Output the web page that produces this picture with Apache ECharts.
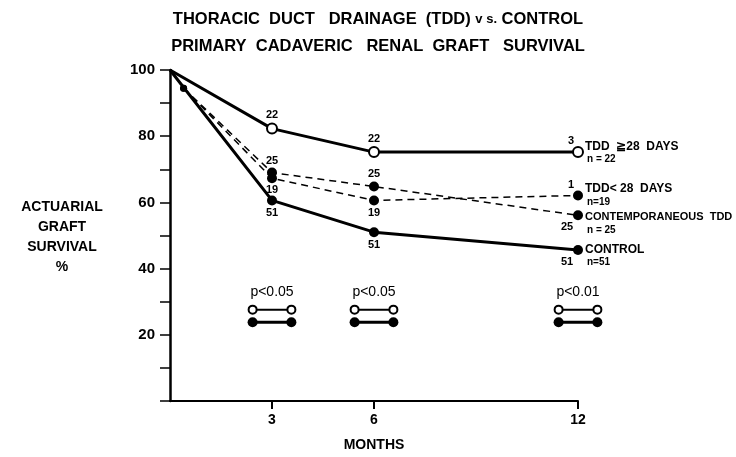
<!DOCTYPE html>
<html><head><meta charset="utf-8">
<script src="https://cdn.jsdelivr.net/npm/echarts@6/dist/echarts.min.js"></script>
<style>html,body{margin:0;padding:0;background:#fff}#c{width:736px;height:457px}</style>
</head><body><div id="c"></div>
<script>
// ---- data ----
const months = [0, 3, 6, 12];
const dashedMonths = [0.4, 3, 6, 12];
const tddLong = [100, 82.3, 75.2, 75.2];
const tddLongN = [null, 22, 22, 3];
const tddShort = [94.5, 67.3, 60.6, 62.1];
const tddShortN = [null, 19, 19, 1];
const contemp = [94.5, 69.0, 64.8, 56.1];
const contempN = [null, 25, 25, 25];
const control = [100, 60.6, 51.0, 45.6];
const controlN = [null, 51, 51, 51];
const groupNames = ['TDD  \u226728  DAYS', 'TDD< 28  DAYS', 'CONTEMPORANEOUS  TDD', 'CONTROL'];
const groupSizes = ['n = 22', 'n=19', 'n = 25', 'n=51'];
const xTickValues = [3, 6, 12];
const yLabelValues = [20, 40, 60, 80, 100];
const pLabels = ['p<0.05', 'p<0.05', 'p<0.01'];
const pMonths = [3, 6, 12];
const pOpenLevel = 27.6, pFilledLevel = 23.8, pTextLevel = 32.8, pHalfWidth = 0.57;

// ---- styling ----
const FONT = '"Liberation Sans", Arial, sans-serif';
const labelStyle = { fontFamily: FONT, fontWeight: 'bold', fontSize: 11, color: '#000' };

function countLabels(ns, cfg) {
  return ns.map((n, i) => {
    if (n === null) return null;
    const c = cfg[i];
    return { show: true, formatter: String(n), position: c.pos, distance: c.d || 2, offset: c.off || [0, 0], ...labelStyle };
  });
}

function buildSeries(name, xs, ys, ns, cfg, opts) {
  const lbls = countLabels(ns, cfg);
  const data = xs.map((x, i) => {
    const item = { value: [x, ys[i]] };
    if (lbls[i]) item.label = lbls[i];
    if (opts.firstSize !== undefined && i === 0) item.symbolSize = opts.firstSize;
    if (opts.hideFirst && i === 0) item.symbol = 'none';
    return item;
  });
  return {
    name, type: 'line', data, z: 5, clip: false,
    symbol: 'circle', symbolSize: 10,
    itemStyle: { color: opts.open ? '#fff' : '#000', borderColor: '#000', borderWidth: opts.open ? 2 : 0 },
    lineStyle: { color: '#000', width: opts.dashed ? 1.5 : 3, type: opts.dashed ? [7, 5] : 'solid' },
    endLabel: {
      show: true, distance: 7, offset: opts.endOff || [0, 0],
      formatter: () => '{a|' + opts.title + '}\n{b|' + opts.size + '}',
      rich: {
        a: { fontFamily: FONT, fontWeight: 'bold', fontSize: opts.nameSize || 11, color: '#000', lineHeight: 13 },
        b: { fontFamily: FONT, fontWeight: 'bold', fontSize: 10, color: '#000', lineHeight: 13, padding: [0, 0, 0, 2] }
      }
    }
  };
}

const series = [
  buildSeries('tddLong', months, tddLong, tddLongN,
    [null, { pos: 'top' }, { pos: 'top' }, { pos: 'top', off: [-7, 2] }],
    { open: true, title: groupNames[0], size: groupSizes[0], hideFirst: true, endOff: [0, 1], nameSize: 12 }),
  buildSeries('tddShort', dashedMonths, tddShort, tddShortN,
    [null, { pos: 'bottom', d: 1 }, { pos: 'bottom' }, { pos: 'top', off: [-7, 2] }],
    { dashed: true, title: groupNames[1], size: groupSizes[1], firstSize: 7, endOff: [0, 0], nameSize: 12 }),
  buildSeries('contemp', dashedMonths, contemp, contempN,
    [null, { pos: 'top', d: 1 }, { pos: 'top' }, { pos: 'bottom', off: [-11, -1] }],
    { dashed: true, title: groupNames[2], size: groupSizes[2], firstSize: 7, endOff: [0, 8] }),
  buildSeries('control', months, control, controlN,
    [null, { pos: 'bottom' }, { pos: 'bottom' }, { pos: 'bottom', off: [-11, -1] }],
    { title: groupNames[3], size: groupSizes[3], hideFirst: true, endOff: [0, 6], nameSize: 12 })
];

// p-value comparison markers (custom series so they can extend past the last tick)
series.push({
  type: 'custom', silent: true, clip: false, z: 4,
  data: pMonths.map((m, i) => [m, i]),
  renderItem: (params, api) => {
    const m = api.value(0);
    const i = api.value(1);
    const children = [];
    [[pOpenLevel, true], [pFilledLevel, false]].forEach(([lvl, open]) => {
      const a = api.coord([m - pHalfWidth, lvl]);
      const b = api.coord([m + pHalfWidth, lvl]);
      children.push({ type: 'line', shape: { x1: a[0], y1: a[1], x2: b[0], y2: b[1] },
        style: { stroke: '#000', lineWidth: open ? 2 : 3 } });
      [a, b].forEach(p => children.push({ type: 'circle', shape: { cx: p[0], cy: p[1], r: open ? 4 : 5 },
        style: { fill: open ? '#fff' : '#000', stroke: '#000', lineWidth: open ? 2 : 0 } }));
    });
    const t = api.coord([m, pTextLevel]);
    children.push({ type: 'text', x: t[0], y: t[1],
      style: { text: pLabels[i], align: 'center', verticalAlign: 'middle', font: '14px ' + FONT, fill: '#000' } });
    return { type: 'group', children };
  }
});

const chart = echarts.init(document.getElementById('c'), null, { renderer: 'canvas' });
chart.setOption({
  animation: false,
  backgroundColor: '#fff',
  title: {
    left: 373, top: 1, textAlign: 'center',
    text: '{t|THORACIC  DUCT   DRAINAGE  (TDD) }{s|v s.}{t| CONTROL}\n{t|PRIMARY  CADAVERIC   RENAL  GRAFT   SURVIVAL}',
    textStyle: {
      rich: {
        t: { fontFamily: FONT, fontWeight: 'bold', fontSize: 16.5, color: '#000', lineHeight: 27 },
        s: { fontFamily: FONT, fontWeight: 'bold', fontSize: 13, color: '#000', lineHeight: 27 }
      }
    }
  },
  grid: { left: 170, right: 158, top: 70, bottom: 54 },
  xAxis: {
    type: 'value', min: 0, max: 12, interval: 3,
    splitLine: { show: false },
    axisLine: { lineStyle: { color: '#000', width: 2 } },
    axisTick: { customValues: xTickValues, length: 8, lineStyle: { color: '#000', width: 2 } },
    axisLabel: { customValues: xTickValues, margin: 12, fontFamily: FONT, fontWeight: 'bold', fontSize: 14, color: '#000' },
    name: 'MONTHS', nameLocation: 'middle', nameGap: 37,
    nameTextStyle: { fontFamily: FONT, fontWeight: 'bold', fontSize: 14, color: '#000' }
  },
  yAxis: {
    type: 'value', min: 0, max: 100, interval: 10,
    splitLine: { show: false },
    axisLine: { show: true, lineStyle: { color: '#000', width: 2.5 } },
    axisTick: { length: 10, lineStyle: { color: '#000', width: 1.5 } },
    axisLabel: {
      margin: 15, fontFamily: FONT, fontWeight: 'bold', fontSize: 15, color: '#000',
      formatter: v => (yLabelValues.indexOf(v) >= 0 ? String(v) : '')
    }
  },
  graphic: [{
    type: 'text', x: 62, y: 197,
    style: {
      text: 'ACTUARIAL\nGRAFT\nSURVIVAL\n%', align: 'center',
      font: 'bold 14px ' + FONT, fill: '#000', lineHeight: 20
    }
  }],
  series
});
</script></body></html>
